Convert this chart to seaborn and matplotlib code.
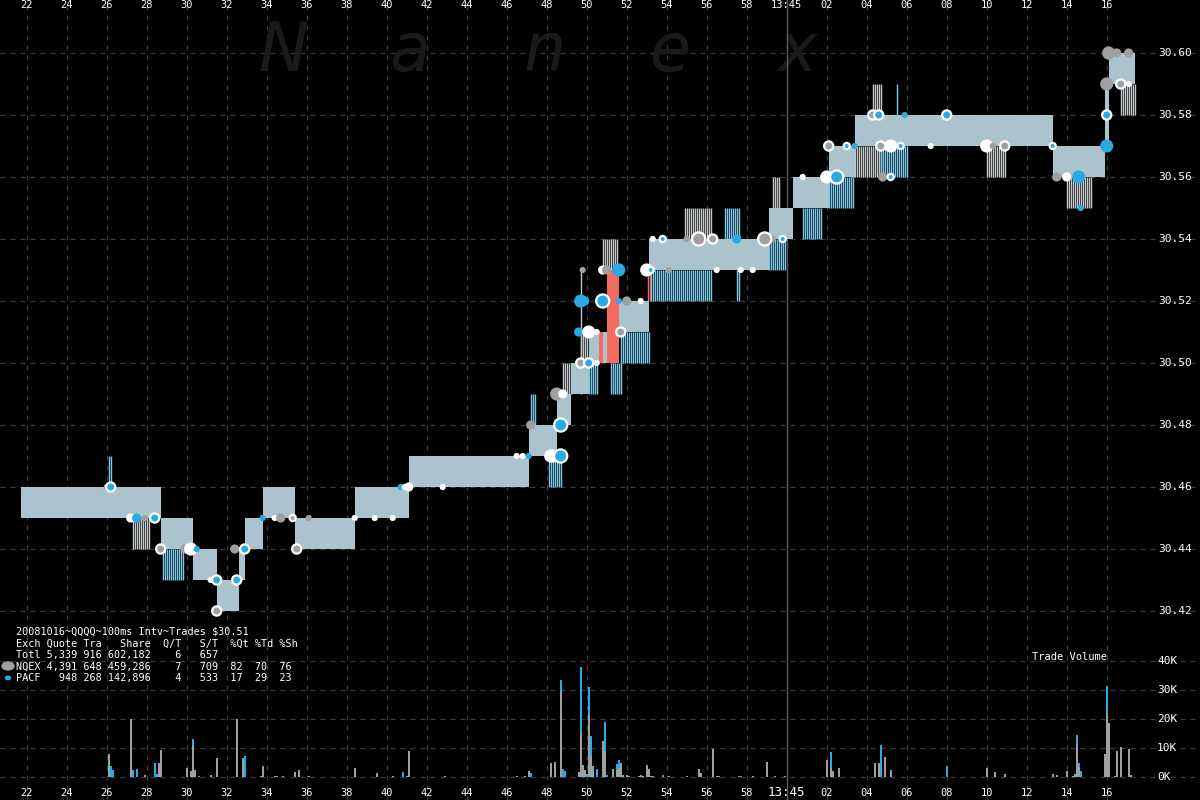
import numpy as np
import pandas as pd
import matplotlib
matplotlib.use("Agg")
import matplotlib.pyplot as plt
import matplotlib.transforms as mtrans
import seaborn as sns

# ---------------- data (seconds after 13:44:00) ----------------
band_t   = [21.7, 28.7, 30.3, 31.5, 32.6, 32.9, 33.8, 35.4, 38.4, 41.1, 47.1, 48.5, 49.2, 50.1,
            50.6, 50.8, 51.0, 51.6, 53.1, 59.1, 60.3, 62.1, 63.4, 73.3, 75.9, 76.1, 77.4]
band_bid = [30.45, 30.44, 30.43, 30.42, 30.43, 30.44, 30.45, 30.44, 30.45, 30.46, 30.47, 30.48, 30.49, 30.50,
            30.51, 30.50, 30.53, 30.51, 30.53, 30.54, 30.55, 30.56, 30.57, 30.56, 30.57, 30.59]
band_ask = [30.46, 30.45, 30.44, 30.43, 30.44, 30.45, 30.46, 30.45, 30.46, 30.47, 30.48, 30.49, 30.50, 30.51,
            30.50, 30.51, 30.50, 30.52, 30.54, 30.55, 30.56, 30.57, 30.58, 30.57, 30.59, 30.60]

# quote flicker regions: start, end, low price, high price, colour code
flk_t0 = [26.1, 27.3, 28.8, 47.2, 48.1, 48.8, 49.7, 50.1, 50.8, 51.2, 51.7, 53.2, 54.9, 56.9, 57.5,
          59.1, 59.3, 60.8, 62.1, 63.3, 64.7, 64.3, 65.5, 70.0, 74.0, 76.7, 53.05, 49.7]
flk_t1 = [26.3, 28.1, 29.9, 47.5, 48.8, 49.3, 50.1, 50.6, 51.5, 51.8, 53.2, 56.3, 56.3, 57.6, 57.6,
          60.0, 59.6, 61.7, 63.4, 64.7, 66.1, 64.7, 65.6, 70.9, 75.2, 77.4, 53.15, 49.8]
flk_lo = [30.46, 30.44, 30.43, 30.48, 30.46, 30.49, 30.50, 30.49, 30.53, 30.49, 30.50, 30.52, 30.54, 30.54, 30.52,
          30.53, 30.55, 30.54, 30.55, 30.56, 30.56, 30.58, 30.58, 30.56, 30.55, 30.58, 30.52, 30.49]
flk_hi = [30.47, 30.45, 30.44, 30.49, 30.47, 30.50, 30.51, 30.50, 30.54, 30.50, 30.51, 30.53, 30.55, 30.55, 30.53,
          30.54, 30.56, 30.55, 30.56, 30.57, 30.57, 30.59, 30.59, 30.57, 30.56, 30.59, 30.53, 30.53]
flk_col = ["b", "g", "b", "b", "b", "g", "g", "b", "g", "b", "b", "b", "g", "b", "b",
           "b", "g", "b", "b", "g", "b", "g", "b", "g", "g", "g", "r", "g"]

# trades: time, price, kind, size class
tr_t = [26.0, 26.2, 27.2, 27.5, 27.9, 28.4, 28.5, 28.7, 29.9, 30.2, 30.5, 31.2, 31.5, 31.5, 32.5, 32.4, 32.9,
        33.8, 34.4, 34.7, 35.3, 35.5, 36.1, 38.4, 39.4, 40.3, 40.7, 40.9, 41.1, 42.8, 46.5, 46.8, 47.1, 47.2,
        48.2, 48.3, 48.7, 48.7, 48.5, 48.8, 49.7, 50.1, 50.5, 49.8, 49.7, 49.9, 50.8, 51.6, 52.0, 52.7, 49.6,
        50.1, 50.5, 51.7, 50.8, 51.0, 51.6, 53.0, 53.2, 54.1, 53.3, 53.8, 55.0, 55.6, 56.3, 57.5, 58.9, 59.3,
        59.8, 56.5, 57.7, 58.3, 60.8, 62.0, 62.5, 62.1, 63.0, 63.4, 64.7, 65.2, 65.7, 67.2, 64.8, 65.2, 64.3,
        64.6, 65.9, 68.0, 70.0, 70.3, 70.9, 73.3, 73.5, 74.0, 74.6, 74.7, 76.0, 76.0, 76.0, 76.7, 77.1, 76.1,
        76.5, 77.1]
tr_p = [30.46, 30.46, 30.45, 30.45, 30.45, 30.45, 30.45, 30.44, 30.44, 30.44, 30.44, 30.43, 30.43, 30.42, 30.43,
        30.44, 30.44, 30.45, 30.45, 30.45, 30.45, 30.44, 30.45, 30.45, 30.45, 30.45, 30.46, 30.46, 30.46, 30.46,
        30.47, 30.47, 30.47, 30.48, 30.47, 30.47, 30.47, 30.48, 30.49, 30.49, 30.50, 30.50, 30.50, 30.53, 30.52,
        30.52, 30.52, 30.52, 30.52, 30.52, 30.51, 30.51, 30.51, 30.51, 30.53, 30.53, 30.53, 30.53, 30.53, 30.53,
        30.54, 30.54, 30.54, 30.54, 30.54, 30.54, 30.54, 30.54, 30.54, 30.53, 30.53, 30.53, 30.56, 30.56, 30.56,
        30.57, 30.57, 30.57, 30.57, 30.57, 30.57, 30.57, 30.56, 30.56, 30.58, 30.58, 30.58, 30.58, 30.57, 30.57,
        30.57, 30.57, 30.56, 30.56, 30.56, 30.55, 30.57, 30.58, 30.59, 30.59, 30.59, 30.60, 30.60, 30.60]
tr_k = ["N", "WP", "W", "P", "N", "WP", "P", "WN", "N", "W", "P", "W", "WP", "WN", "WP", "N", "WP",
        "P", "W", "N", "WN", "WN", "N", "W", "W", "W", "P", "W", "W", "W", "W", "W", "P", "N",
        "W", "W", "WP", "WP", "N", "W", "WN", "WP", "W", "N", "P", "P", "WP", "P", "N", "W", "P",
        "W", "W", "WN", "W", "N", "P", "W", "WP", "N", "W", "WP", "N", "WN", "WN", "P", "WN", "N",
        "WP", "W", "W", "W", "W", "W", "WP", "WN", "WP", "P", "WN", "W", "WP", "W", "N", "WP", "WN",
        "WP", "P", "WP", "W", "N", "WN", "WP", "N", "W", "P", "P", "P", "WP", "N", "WN", "W", "N",
        "N", "N"]
tr_s = [1, 2, 2, 2, 1, 2, 1, 2, 2, 3, 1, 1, 2, 2, 2, 2, 2,
        1, 1, 2, 1, 2, 1, 1, 1, 1, 1, 1, 2, 1, 1, 1, 1, 2,
        3, 3, 3, 3, 3, 2, 2, 2, 1, 1, 3, 2, 3, 1, 2, 1, 2,
        3, 1, 2, 2, 2, 3, 3, 1, 1, 1, 1, 1, 3, 2, 2, 3, 1,
        1, 1, 1, 1, 1, 3, 3, 2, 1, 1, 2, 3, 1, 1, 2, 1, 2,
        2, 1, 2, 3, 1, 2, 1, 2, 2, 3, 1, 3, 2, 3, 2, 1, 3,
        2, 2]

# volume per 100ms interval (thousands of shares)
vol_t = [26.1, 26.2, 26.3, 27.2, 27.3, 27.5, 27.9, 28.4, 28.5, 28.6, 28.7, 30.0, 30.2, 30.3, 30.4, 30.6,
         31.2, 31.5, 32.5, 32.8, 32.9, 33.7, 33.8, 34.4, 34.5, 34.8, 35.4, 35.6, 36.1, 38.4, 39.5, 40.3,
         40.8, 41.0, 41.1, 42.9, 46.5, 46.9, 47.1, 47.2, 48.1, 48.2, 48.4, 48.7, 48.8, 48.9, 49.6, 49.7,
         49.8, 49.9, 50.0, 50.1, 50.2, 50.3, 50.5, 50.7, 50.8, 50.9, 51.0, 51.3, 51.5, 51.6, 51.7, 51.8,
         52.0, 52.1, 52.6, 52.7, 52.8, 53.0, 53.1, 53.2, 53.3, 53.8, 54.1, 55.0, 55.6, 55.7, 56.3, 56.5,
         56.6, 57.6, 57.7, 58.3, 59.0, 59.4, 59.9, 62.0, 62.2, 62.3, 62.6, 64.4, 64.6, 64.7, 64.9, 65.2,
         68.0, 70.0, 70.4, 70.9, 73.3, 73.5, 74.0, 74.3, 74.4, 74.5, 74.6, 74.7, 75.9, 76.0, 76.1, 76.4,
         76.5, 76.7, 77.1, 77.2]
vol_nqex = [8, 0, 0, 20, 0, 0, 0.8, 0, 0, 5, 9.4, 3.2, 2.2, 11.2, 2.5, 0,
            0.8, 6.6, 20, 6, 0, 0.2, 3.4, 0.5, 0.5, 0.5, 1.8, 2.5, 0.5, 3.2, 1.5, 0.5,
            0, 0.2, 8.8, 0.5, 0.2, 0.5, 2.2, 0, 0, 5, 5.3, 29.8, 0, 0, 1.8, 15.2,
            4.3, 2.5, 0, 21.8, 7.4, 3.9, 0, 0.1, 12.5, 9.1, 0, 2.9, 2.5, 3.2, 5, 0.8,
            0.8, 0.2, 0.2, 0.8, 0.5, 4.3, 2.9, 0.2, 0.5, 0, 0.2, 0.2, 2.9, 1.5, 9.7, 0.5,
            0.2, 0, 0, 0.5, 5.3, 0.2, 0, 6, 3, 2, 3, 5, 5, 0, 7, 2.4,
            0, 3, 1.8, 0.9, 0.9, 0.6, 2, 0.2, 0.9, 11.3, 3.4, 0.5, 7.8, 22, 18.5, 0.2,
            8.9, 10.2, 9.5, 0.6]
vol_pacf = [0, 3.9, 2.5, 0, 2.5, 2.9, 0, 5, 1.2, 0, 0, 0, 0, 2, 0, 0.3,
            0, 0, 0, 0.6, 7.3, 0, 0.3, 0, 0, 0, 0, 0, 0, 0, 0, 0,
            1.8, 0, 0, 0, 0, 0, 0, 1.5, 0.1, 0, 0, 3.8, 2.9, 2, 0, 22.9,
            0, 0, 1.1, 9.3, 6.9, 0, 2.9, 0, 0, 10, 0.8, 0, 2, 2.8, 0, 0,
            0, 0, 0, 0, 0, 0, 0, 0, 0, 0.8, 0, 0, 0, 0, 0, 0,
            0, 0.5, 0.5, 0, 0, 0, 0.2, 0, 5.5, 0, 0, 0, 0, 11, 0, 0,
            3.8, 0, 0, 0, 0, 0, 0, 0, 0, 3.1, 1.6, 1.5, 0, 9.3, 0, 0,
            0, 0, 0, 0]

time_ticks = [22, 24, 26, 28, 30, 32, 34, 36, 38, 40, 42, 44, 46, 48, 50, 52, 54, 56, 58,
              60, 62, 64, 66, 68, 70, 72, 74, 76]
price_ticks = [30.42, 30.44, 30.46, 30.48, 30.50, 30.52, 30.54, 30.56, 30.58, 30.60]
vol_ticks = [0, 10, 20, 30, 40]

title_lines = ["20081016~QQQQ~100ms Intv~Trades $30.51",
               "Exch Quote Tra   Share  Q/T   S/T  %Qt %Td %Sh",
               "Totl 5,339 916 602,182    6   657",
               "NQEX 4,391 648 459,286    7   709  82  70  76",
               "PACF   948 268 142,896    4   533  17  29  23"]

# ---------------- style ----------------
sns.set_theme(style="dark")
plt.rcParams["font.family"] = ["DejaVu Sans Mono", "DejaVu Sans"]
GREY = "#a0a0a0"
BLUE = "#29abe2"
BAND = "#abc3cc"
GRID = "#3c3c3c"
FLK = {"b": "#7cc9ea", "g": "#c4c8ca", "r": "#f26b63"}

fig = plt.figure(figsize=(12, 8), dpi=100, facecolor="black")
ax = fig.add_axes([0, 0, 1, 1])
ax.set_facecolor("black")
x0 = 20.665
XL = (x0, x0 + 60)
YL = (30.60 - 747 / 3100, 30.60 + 53 / 3100)

# grid
for t in time_ticks:
    ax.axvline(t, color=GRID, lw=0.9, ls=(0, (4, 4)), zorder=0)
for p in price_ticks:
    ax.axhline(p, color=GRID, lw=0.9, ls=(0, (4, 4)), zorder=0)
ax.axvline(60, color="#5a5a5a", lw=1.0, zorder=0.5)

# watermark
for letter, xc in zip("Nanex", [283, 410, 545, 670, 797]):
    ax.text(xc / 1200, 1 - 52 / 800, letter, transform=ax.transAxes, ha="center", va="center",
            fontsize=48, style="italic", color="#1a1a1a", family="DejaVu Sans", zorder=0.2)

# bid/ask band
for i in range(len(band_bid)):
    lo, hi = min(band_bid[i], band_ask[i]), max(band_bid[i], band_ask[i])
    col = "#f26b63" if band_bid[i] > band_ask[i] else BAND
    ax.fill_between([band_t[i], band_t[i + 1]], lo, hi, color=col, lw=0, zorder=2)

# quote flicker lines
for a, b, lo, hi, c in zip(flk_t0, flk_t1, flk_lo, flk_hi, flk_col):
    xs = np.arange(a, b, 0.1)
    ax.vlines(xs, lo, hi, color=FLK[c], lw=1.0, zorder=1.5)

# trades
tr = pd.DataFrame({"t": tr_t, "price": tr_p, "kind": tr_k, "size": tr_s})
face = {"N": GREY, "P": BLUE, "W": "#ffffff", "WP": BLUE, "WN": GREY}
size_map = {1: 20, 2: 44, 3: 90}
plain = tr[tr["kind"].isin(["N", "P", "W"])]
ring = tr[tr["kind"].isin(["WP", "WN"])]
sns.scatterplot(data=plain, x="t", y="price", hue="kind", palette=face, size="size", sizes=size_map,
                edgecolor="none", linewidth=0, legend=False, ax=ax, zorder=4)
sns.scatterplot(data=ring, x="t", y="price", hue="kind", palette=face, size="size", sizes=size_map,
                edgecolor="white", linewidth=1.6, legend=False, ax=ax, zorder=5)
ax.set_xlim(*XL)
ax.set_ylim(*YL)
ax.axis("off")

# volume panel
axv = ax.twinx()
axv.set_ylim(-23 / 2.9, 777 / 2.9)
axv.axis("off")
for v in vol_ticks:
    axv.axhline(v, color=GRID, lw=0.9, ls=(0, (4, 4)), zorder=0)
vn = np.array(vol_nqex)
vp = np.array(vol_pacf)
axv.bar(vol_t, vn, width=0.11, color=GREY, lw=0, zorder=3)
axv.bar(vol_t, vp, bottom=vn, width=0.11, color=BLUE, lw=0, zorder=3)
axv.set_xlim(*XL)

# labels
fs = 7.5
bt = mtrans.blended_transform_factory(ax.transData, ax.transAxes)
for t in time_ticks:
    lab = "13:45" if t == 60 else "%02d" % (t % 60)
    ax.text(t, 1 - 5 / 800, lab, transform=bt, ha="center", va="center", color="white", fontsize=fs)
    ax.text(t, 1 - 793 / 800, lab, transform=bt, ha="center", va="center", color="white",
            fontsize=fs + (1.5 if t == 60 else 0))
bp = mtrans.blended_transform_factory(ax.transAxes, ax.transData)
for p in price_ticks:
    ax.text(1158 / 1200, p, "%.2f" % p, transform=bp, ha="left", va="center", color="white", fontsize=fs + 0.5)
bv = mtrans.blended_transform_factory(axv.transAxes, axv.transData)
for v in vol_ticks:
    axv.text(1157 / 1200, v, "%dK" % v, transform=bv, ha="left", va="center", color="white", fontsize=fs + 0.5)
axv.text(1032 / 1200, 1 - 657 / 800, "Trade Volume", transform=axv.transAxes, ha="left", va="center",
         color="white", fontsize=fs)

for i, line in enumerate(title_lines):
    fig.text(16 / 1200, 1 - (632 + 11.6 * i) / 800, line, ha="left", va="center", color="white",
             fontsize=7.3)
fig.patches.append(matplotlib.patches.Circle((8 / 1200, 1 - 666 / 800), 6 / 1200, color=GREY,
                                              transform=fig.transFigure))
fig.patches.append(matplotlib.patches.Circle((8 / 1200, 1 - 678 / 800), 2.5 / 1200, color=BLUE,
                                              transform=fig.transFigure))

fig.savefig("out.png", dpi=100, facecolor="black")
